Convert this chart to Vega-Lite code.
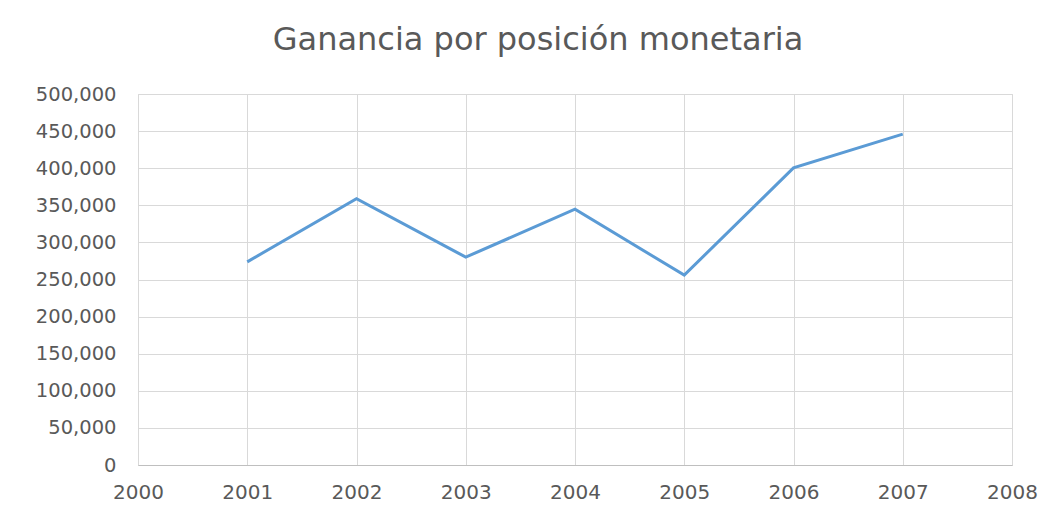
{
  "$schema": "https://vega.github.io/schema/vega-lite/v6.json",
  "autosize": {"type": "none"},
  "width": 874,
  "height": 371,
  "padding": {"left": 138, "top": 94, "right": 49, "bottom": 52},
  "background": "white",
  "title": {
    "text": "Ganancia por posición monetaria",
    "font": "DejaVu Sans",
    "fontSize": 32,
    "fontWeight": "normal",
    "color": "#595959",
    "anchor": "middle",
    "dx": -37,
    "offset": 27
  },
  "data": {
    "values": [
      {"year": 2001, "value": 273800},
      {"year": 2002, "value": 359000},
      {"year": 2003, "value": 280100},
      {"year": 2004, "value": 344700},
      {"year": 2005, "value": 255900},
      {"year": 2006, "value": 400400},
      {"year": 2007, "value": 445900}
    ]
  },
  "mark": {"type": "line", "color": "#5b9bd5", "strokeWidth": 3},
  "encoding": {
    "x": {
      "field": "year",
      "type": "quantitative",
      "scale": {"domain": [2000, 2008], "nice": false, "zero": false},
      "axis": {
        "title": null,
        "values": [2000, 2001, 2002, 2003, 2004, 2005, 2006, 2007, 2008],
        "format": "d",
        "ticks": false,
        "labelFlush": false,
        "labelOverlap": false,
        "domainColor": "#bfbfbf",
        "gridColor": "#d9d9d9",
        "labelFont": "DejaVu Sans",
        "labelFontSize": 20,
        "labelColor": "#595959",
        "labelPadding": 17
      }
    },
    "y": {
      "field": "value",
      "type": "quantitative",
      "scale": {"domain": [0, 500000], "nice": false},
      "axis": {
        "title": null,
        "values": [0, 50000, 100000, 150000, 200000, 250000, 300000, 350000, 400000, 450000, 500000],
        "format": ",d",
        "ticks": false,
        "domain": false,
        "gridColor": "#d9d9d9",
        "labelFont": "DejaVu Sans",
        "labelFontSize": 19.5,
        "labelColor": "#595959",
        "labelPadding": 22
      }
    }
  },
  "config": {
    "view": {"stroke": "#d9d9d9"}
  }
}
